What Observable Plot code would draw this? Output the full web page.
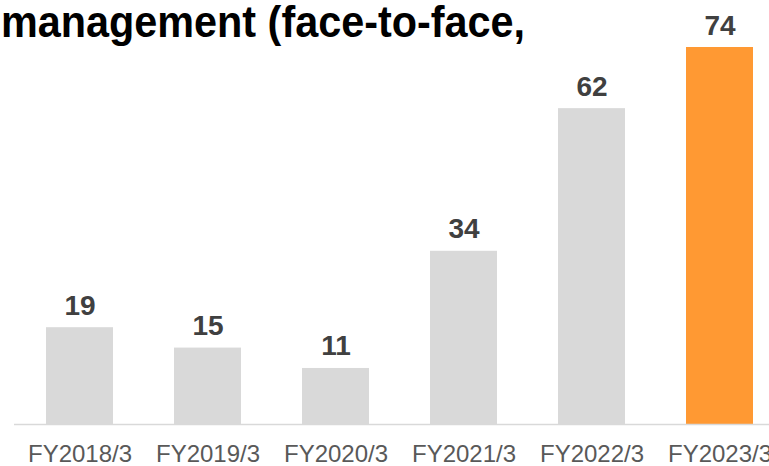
<!DOCTYPE html>
<html>
<head>
<meta charset="utf-8">
<script src="https://cdn.jsdelivr.net/npm/d3@7"></script>
<script src="https://cdn.jsdelivr.net/npm/@observablehq/plot@0.6"></script>
<style>
  html, body { margin: 0; padding: 0; background: #fff; overflow: hidden; }
  #wrap { position: relative; width: 769px; height: 466px; }
  #title {
    position: absolute; left: 1px; top: 0;
    font-family: "Liberation Sans", Arial, sans-serif; font-weight: bold;
    font-size: 44px; line-height: 44px; color: #000; white-space: nowrap;
    transform: scaleX(0.94); transform-origin: left top;
  }
  svg { display: block; }
</style>
</head>
<body>
<div id="wrap">
  <div id="chart"></div>
  <div id="title">management (face-to-face,</div>
</div>
<script>
const categories = ["FY2018/3", "FY2019/3", "FY2020/3", "FY2021/3", "FY2022/3", "FY2023/3"];
const values = [19, 15, 11, 34, 62, 74];
const highlight = "FY2023/3";

const data = categories.map((c, i) => ({ category: c, value: values[i] }));

const chart = Plot.plot({
  width: 769,
  height: 466,
  marginTop: 47,
  marginBottom: 42,
  marginLeft: 14,
  marginRight: 0,
  style: { fontFamily: "'Liberation Sans', Arial, sans-serif", background: "#fff", overflow: "visible" },
  x: { domain: categories, range: [14.25, 785.25], paddingInner: 0.48, paddingOuter: 0.24, label: null },
  y: { domain: [0, 74], axis: null },
  marks: [
    Plot.barY(data, {
      x: "category", y: "value",
      fill: d => d.category === highlight ? "#FF9933" : "#D9D9D9"
    }),
    Plot.ruleY([0], { stroke: "#D9D9D9", strokeWidth: 1.5 }),
    Plot.text(data, {
      x: "category", y: "value", text: d => String(d.value),
      dy: -13, lineAnchor: "bottom",
      fontSize: 28, fontWeight: "bold", fill: "#404040"
    }),
    Plot.axisX({
      tickSize: 0, tickPadding: 20, fontSize: 24, color: "#595959", label: null
    })
  ]
});
document.getElementById("chart").appendChild(chart);
</script>
</body>
</html>
